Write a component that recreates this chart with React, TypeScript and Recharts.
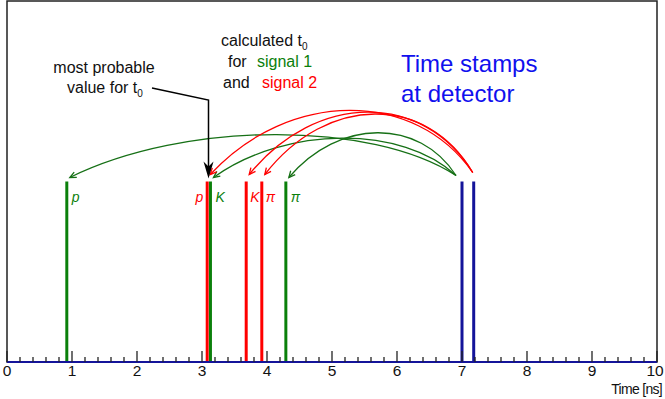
import React from "react";
import {
  ComposedChart,
  XAxis,
  YAxis,
  ReferenceLine,
  ReferenceArea,
  Customized,
  usePlotArea,
} from "recharts";

// time (ns) of the reconstructed t0 lines
const SIGNAL1_TIMES = [0.92, 3.13, 4.29];
const SIGNAL1_LABELS = ["p", "K", "π"];
const SIGNAL2_TIMES = [3.08, 3.68, 3.92];
const SIGNAL2_LABELS = ["p", "K", "π"];
// time stamps at the detector
const DETECTOR_TIMES = [7.0, 7.18];
const PEAK_HEIGHT = 0.5;
const MOST_PROBABLE_T0 = 3.1;
// apex height of each arrow arc (y units)
const SIGNAL1_ARC_APEX = [0.63, 0.62, 0.635];
const SIGNAL2_ARC_APEX = [0.697, 0.692, 0.687];

const X_MAJOR = [0, 1, 2, 3, 4, 5, 6, 7, 8, 9, 10];
const X_TICKS = Array.from({ length: 51 }, (_, i) => Math.round(i * 2) / 10);

const GREEN = "#0b800b";
const ARC_GREEN = "#167016";
const RED = "#ff0000";
const NAVY = "#14149a";
const FONT = "'Liberation Sans', Arial, Helvetica, sans-serif";

const TimeTick = (props: any) => {
  const { x, y, payload } = props;
  const v = payload.value;
  const major = X_MAJOR.some((m) => Math.abs(m - v) < 1e-6);
  return (
    <g>
      <line x1={x} x2={x} y1={y} y2={y - (major ? 11 : 5)} stroke="#222" strokeWidth={1.3} />
      {major && (
        <text
          x={v === 10 ? x - 2 : x}
          y={y + 14}
          textAnchor="middle"
          fontSize={15.5}
          fill="#111"
          fontFamily={FONT}
        >
          {Math.round(v)}
        </text>
      )}
    </g>
  );
};

const Annotations = () => {
  const plot = usePlotArea();
  if (!plot) return null;
  const px = (t: number) => plot.x + (t / 10) * plot.width;
  const py = (v: number) => plot.y + (1 - v) * plot.height;

  const arc = (x0: number, y0: number, x3: number, y3: number, apex: number, color: string, key: string) => {
    const dx = x0 - x3;
    const c = (apex - 0.125 * (y0 + y3)) / 0.75;
    const c1x = x0 - 0.22 * dx;
    const c2x = x3 + 0.3 * dx;
    const a = Math.atan2(y3 - c, x3 - c2x);
    const L = 7;
    const w = (25 * Math.PI) / 180;
    const w1 = [x3 - L * Math.cos(a - w), y3 - L * Math.sin(a - w)];
    const w2 = [x3 - L * Math.cos(a + w), y3 - L * Math.sin(a + w)];
    return (
      <g key={key}>
        <path d={`M${x0},${y0} C${c1x},${c} ${c2x},${c} ${x3},${y3}`} fill="none" stroke={color} strokeWidth={1.3} />
        <polyline points={`${w1[0]},${w1[1]} ${x3},${y3} ${w2[0]},${w2[1]}`} fill="none" stroke={color} strokeWidth={1.3} />
      </g>
    );
  };

  const top = py(PEAK_HEIGHT);
  const labelY = top + 20;
  const ax = px(MOST_PROBABLE_T0);

  return (
    <g fontFamily={FONT}>
      {SIGNAL1_TIMES.map((t, i) =>
        arc(px(DETECTOR_TIMES[0]) - 6, top - 6, px(t) + 3, top - 4, py(SIGNAL1_ARC_APEX[i]), ARC_GREEN, `g${i}`)
      )}
      {SIGNAL2_TIMES.map((t, i) =>
        arc(px(DETECTOR_TIMES[1]) - 1, top - 9, px(t) + 3, top - 7, py(SIGNAL2_ARC_APEX[i]), RED, `r${i}`)
      )}

      {SIGNAL1_TIMES.map((t, i) => (
        <text key={`gl${i}`} x={px(t) + 5} y={labelY} fontSize={14} fontStyle="italic" fill={GREEN}>
          {SIGNAL1_LABELS[i]}
        </text>
      ))}
      {SIGNAL2_TIMES.map((t, i) => (
        <text
          key={`rl${i}`}
          x={i === 0 ? px(t) - 4 : px(t) + 4}
          y={labelY}
          textAnchor={i === 0 ? "end" : "start"}
          fontSize={14}
          fontStyle="italic"
          fill={RED}
        >
          {SIGNAL2_LABELS[i]}
        </text>
      ))}

      {/* most probable t0 arrow */}
      <path d={`M152,88 L${ax},100 L${ax},${top - 12}`} fill="none" stroke="#000" strokeWidth={1.5} />
      <path
        d={`M${ax},${top - 3} L${ax - 5},${top - 20} L${ax},${top - 15} L${ax + 5},${top - 20} Z`}
        fill="#000"
      />
      <text x={104} y={73} textAnchor="middle" fontSize={16} fill="#111">
        most probable
      </text>
      <text x={67} y={93} fontSize={16} fill="#111">
        value for t
        <tspan fontSize={10} dy={4}>0</tspan>
      </text>

      <text x={221} y={46} fontSize={16} fill="#111">
        calculated t
        <tspan fontSize={10} dy={4}>0</tspan>
      </text>
      <text x={228} y={67} fontSize={16} fill="#111">for</text>
      <text x={257} y={67} fontSize={16} fill={GREEN}>signal 1</text>
      <text x={223} y={88} fontSize={16} fill="#111">and</text>
      <text x={262} y={88} fontSize={16} fill={RED}>signal 2</text>

      <text x={401} y={72} fontSize={24} fill="#1010ee">Time stamps</text>
      <text x={401} y={102} fontSize={24} fill="#1010ee">at detector</text>

      <text x={662} y={394} textAnchor="end" fontSize={14} letterSpacing={-0.7} fill="#111">
        Time [ns]
      </text>
    </g>
  );
};

export default function App() {
  return (
    <div style={{ position: "absolute", left: 0, top: 0, background: "#fff" }}>
      <ComposedChart width={665} height={399} margin={{ top: 1, right: 8, left: 7, bottom: 0 }} data={[]}>
        <XAxis
          type="number"
          dataKey="t"
          domain={[0, 10]}
          ticks={X_TICKS}
          interval={0}
          height={37}
          tickSize={0}
          tickMargin={0}
          tickLine={false}
          tick={<TimeTick />}
          axisLine={{ stroke: NAVY, strokeWidth: 2 }}
          allowDataOverflow
        />
        <YAxis type="number" domain={[0, 1]} hide allowDataOverflow />
        <ReferenceArea x1={0} x2={10} y1={0} y2={1} fill="none" stroke="#222" strokeWidth={1.5} />
        {SIGNAL1_TIMES.map((t, i) => (
          <ReferenceLine
            key={`s1${i}`}
            segment={[{ x: t, y: 0 }, { x: t, y: PEAK_HEIGHT }]}
            stroke={GREEN}
            strokeWidth={3}
          />
        ))}
        {SIGNAL2_TIMES.map((t, i) => (
          <ReferenceLine
            key={`s2${i}`}
            segment={[{ x: t, y: 0 }, { x: t, y: PEAK_HEIGHT }]}
            stroke={RED}
            strokeWidth={3}
          />
        ))}
        {DETECTOR_TIMES.map((t, i) => (
          <ReferenceLine
            key={`d${i}`}
            segment={[{ x: t, y: 0 }, { x: t, y: PEAK_HEIGHT }]}
            stroke={NAVY}
            strokeWidth={3}
          />
        ))}
        <Customized component={<Annotations />} />
      </ComposedChart>
    </div>
  );
}
